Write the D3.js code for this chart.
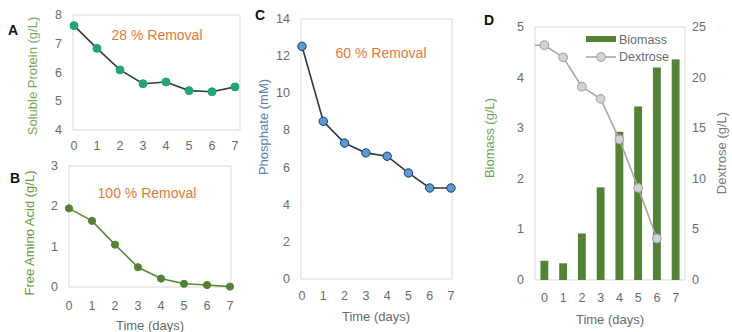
<!DOCTYPE html>
<html>
<head>
<meta charset="utf-8">
<script src="https://cdn.jsdelivr.net/npm/d3@7"></script>
<style>
  body { margin: 0; background: #fff; }
  svg text { font-family: "Liberation Sans", Arial, sans-serif; }
</style>
</head>
<body>
<div id="chart"></div>
<script>
// data
var days = [0, 1, 2, 3, 4, 5, 6, 7];
var protein = [7.63, 6.84, 6.09, 5.61, 5.67, 5.37, 5.33, 5.50];
var aminoAcid = [1.95, 1.64, 1.05, 0.49, 0.21, 0.08, 0.05, 0.01];
var phosphate = [12.53, 8.49, 7.32, 6.79, 6.61, 5.71, 4.90, 4.90];
var biomass = [0.38, 0.33, 0.92, 1.83, 2.93, 3.43, 4.20, 4.36];
var dextrose = [23.2, 22.0, 19.1, 17.9, 13.9, 9.1, 4.1];

var proteinTicks = [4, 5, 6, 7, 8];
var aminoTicks = [0, 1, 2, 3];
var phosphateTicks = [0, 2, 4, 6, 8, 10, 12, 14];
var biomassTicks = [0, 1, 2, 3, 4, 5];
var dextroseTicks = [0, 5, 10, 15, 20, 25];

var tickColor = "#6b6b6b";
var boxColor = "#d9d9d9";
var orange = "#e07a3a";

var svg = d3.select("#chart")
  .append("svg")
  .attr("width", 732)
  .attr("height", 332);

function box(x0, x1, y0, y1) {
  svg.append("rect")
    .attr("x", x0).attr("y", y0)
    .attr("width", x1 - x0).attr("height", y1 - y0)
    .attr("fill", "none")
    .attr("stroke", boxColor)
    .attr("stroke-width", 1);
}

function yTicks(scale, ticks, x, anchor) {
  svg.append("g").selectAll("text")
    .data(ticks)
    .enter()
    .append("text")
    .attr("x", x)
    .attr("y", d => scale(d) + 4)
    .attr("text-anchor", anchor)
    .attr("font-size", "12.5")
    .attr("fill", tickColor)
    .text(d => d);
}

function xTicks(scale, y) {
  svg.append("g").selectAll("text")
    .data(days)
    .enter()
    .append("text")
    .attr("x", d => scale(d))
    .attr("y", y)
    .attr("text-anchor", "middle")
    .attr("font-size", "12.5")
    .attr("fill", tickColor)
    .text(d => d);
}

function yTitle(txt, x, y, color) {
  svg.append("text")
    .attr("transform", "translate(" + x + "," + y + ") rotate(-90)")
    .attr("text-anchor", "middle")
    .attr("font-size", "13")
    .attr("fill", color)
    .text(txt);
}

function letter(txt, x, y) {
  svg.append("text")
    .attr("x", x).attr("y", y)
    .attr("font-size", "14")
    .attr("font-weight", "bold")
    .attr("fill", "#111")
    .text(txt);
}

function note(txt, x, y) {
  svg.append("text")
    .attr("x", x).attr("y", y)
    .attr("text-anchor", "middle")
    .attr("font-size", "14")
    .attr("fill", orange)
    .text(txt);
}

function timeLabel(x, y) {
  svg.append("text")
    .attr("x", x).attr("y", y)
    .attr("text-anchor", "middle")
    .attr("font-size", "13")
    .attr("fill", tickColor)
    .text("Time (days)");
}

function series(vals, x, y, lineColor, fill, stroke, r) {
  var line = d3.line()
    .x((d, i) => x(days[i]))
    .y(d => y(d));
  svg.append("path")
    .datum(vals)
    .attr("d", line)
    .attr("fill", "none")
    .attr("stroke", lineColor)
    .attr("stroke-width", 1.6);
  svg.append("g").selectAll("circle")
    .data(vals)
    .enter()
    .append("circle")
    .attr("cx", (d, i) => x(days[i]))
    .attr("cy", d => y(d))
    .attr("r", r)
    .attr("fill", fill)
    .attr("stroke", stroke)
    .attr("stroke-width", 1);
}

// ---- panel A
var xA = d3.scalePoint().domain(days).range([74, 235]);
var yA = d3.scaleLinear().domain([4, 8]).range([130, 15]);
box(73, 240, 15, 130);
yTicks(yA, proteinTicks, 62, "end");
xTicks(xA, 150);
yTitle("Soluble Protein  (g/L)", 37, 76, "#79ab57");
letter("A", 8, 35);
note("28 % Removal", 157, 40);
series(protein, xA, yA, "#34402c", "#1fa673", "#1fa673", 4);

// ---- panel B
var xB = d3.scalePoint().domain(days).range([69, 230]);
var yB = d3.scaleLinear().domain([0, 3]).range([287, 166]);
box(69, 231, 166, 287);
yTicks(yB, aminoTicks, 58, "end");
xTicks(xB, 310);
yTitle("Free Amino Acid (g/L)", 34, 233, "#6a9a3c");
letter("B", 10, 183);
note("100 % Removal", 147, 198);
timeLabel(150, 330);
series(aminoAcid, xB, yB, "#5a8a33", "#548235", "#548235", 3.6);

// ---- panel C
var xC = d3.scalePoint().domain(days).range([302, 451]);
var yC = d3.scaleLinear().domain([0, 14]).range([279, 19]);
box(301, 452, 19, 279);
yTicks(yC, phosphateTicks, 290, "end");
xTicks(xC, 300);
yTitle("Phosphate (mM)", 268, 127, "#5b80c2");
letter("C", 255, 20);
note("60 % Removal", 381, 58);
timeLabel(376, 321);
series(phosphate, xC, yC, "#2b3648", "#5b9bd5", "#1f3864", 4.2);

// ---- panel D
var xD = d3.scaleBand().domain(days).range([535, 685]);
var yD = d3.scaleLinear().domain([0, 5]).range([280, 27]);
var yD2 = d3.scaleLinear().domain([0, 25]).range([280, 27]);
box(535, 685, 27, 280);
var barW = xD.bandwidth() * 0.42;

svg.append("g").selectAll("rect")
  .data(biomass)
  .enter()
  .append("rect")
  .attr("x", (d, i) => xD(days[i]) + xD.bandwidth() / 2 - barW / 2)
  .attr("y", d => yD(d))
  .attr("width", barW)
  .attr("height", d => yD(0) - yD(d))
  .attr("fill", "#548235");

// dextrose line starts from the left edge of the plot
var dexLine = d3.line()
  .x((d, i) => xD(days[i]) + xD.bandwidth() / 2)
  .y(d => yD2(d));
svg.append("path")
  .datum(dextrose)
  .attr("d", "M" + xD.range()[0] + "," + yD2(dextrose[0]) + dexLine(dextrose).replace("M", "L"))
  .attr("fill", "none")
  .attr("stroke", "#a9a9a9")
  .attr("stroke-width", 1.6);
svg.append("g").selectAll("circle")
  .data(dextrose)
  .enter()
  .append("circle")
  .attr("cx", (d, i) => xD(days[i]) + xD.bandwidth() / 2)
  .attr("cy", d => yD2(d))
  .attr("r", 4.3)
  .attr("fill", "#d3d3d3")
  .attr("stroke", "#a9a9a9")
  .attr("stroke-width", 1.2);

yTicks(yD, biomassTicks, 524, "end");
yTicks(yD2, dextroseTicks, 692, "start");
svg.append("g").selectAll("text")
  .data(days)
  .enter()
  .append("text")
  .attr("x", d => xD(d) + xD.bandwidth() / 2)
  .attr("y", 302)
  .attr("text-anchor", "middle")
  .attr("font-size", "12.5")
  .attr("fill", tickColor)
  .text(d => d);
timeLabel(610, 324);
yTitle("Biomass (g/L)", 494, 138, "#6aa84f");
yTitle("Dextrose (g/L)", 726, 153, "#7a7a7a");
letter("D", 484, 25);

// legend
var legend = svg.append("g");
legend.append("rect")
  .attr("x", 586).attr("y", 36)
  .attr("width", 30).attr("height", 6)
  .attr("fill", "#548235");
legend.append("text")
  .attr("x", 619).attr("y", 44)
  .attr("font-size", "12.5")
  .attr("fill", tickColor)
  .text("Biomass");
legend.append("line")
  .attr("x1", 586).attr("x2", 616)
  .attr("y1", 57).attr("y2", 57)
  .attr("stroke", "#a9a9a9")
  .attr("stroke-width", 1.6);
legend.append("circle")
  .attr("cx", 601).attr("cy", 57)
  .attr("r", 4.3)
  .attr("fill", "#d3d3d3")
  .attr("stroke", "#a9a9a9")
  .attr("stroke-width", 1.2);
legend.append("text")
  .attr("x", 619).attr("y", 61)
  .attr("font-size", "12.5")
  .attr("fill", tickColor)
  .text("Dextrose");
</script>
</body>
</html>
